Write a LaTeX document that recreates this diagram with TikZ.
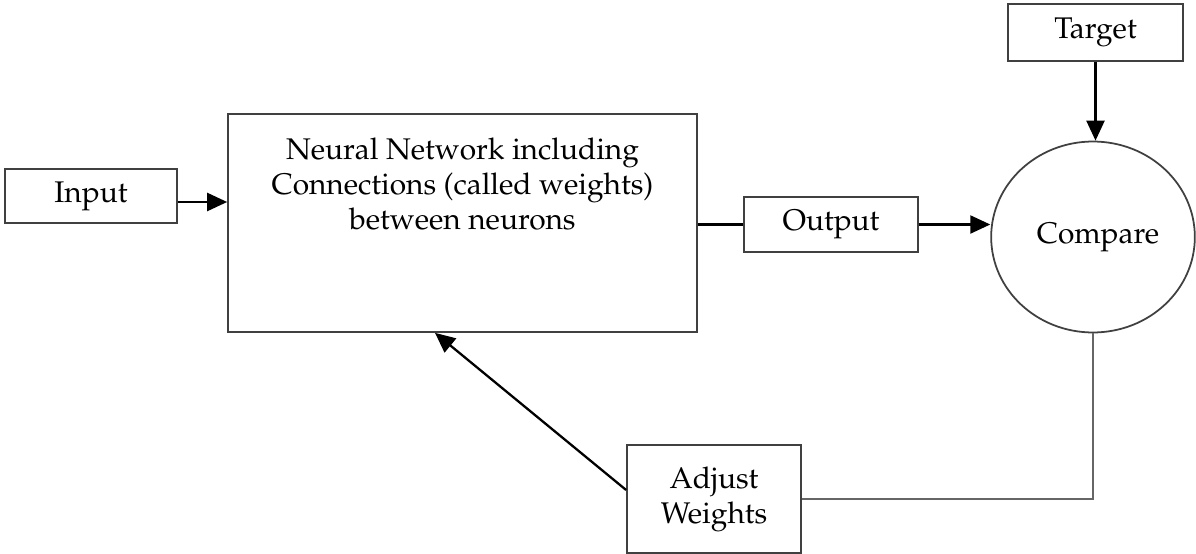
\documentclass[tikz,border=0pt]{standalone}
\usepackage[T1]{fontenc}
\usepackage{mathpazo}
\usepackage{tikz}
\usetikzlibrary{positioning, arrows.meta, shapes.geometric}

\begin{document}
\begin{tikzpicture}[
    x=0.02cm, y=-0.02cm,
    box/.style={draw=black!75, line width=1pt, rectangle, font=\fontsize{17}{20}\selectfont, align=center, inner sep=0pt},
    cmp/.style={draw=black!75, line width=1pt, ellipse, minimum width=4.06cm, minimum height=3.82cm, font=\fontsize{17}{20}\selectfont},
    link/.style={line width=1.2pt},
    flow/.style={line width=1.3pt, -{Triangle[length=0.4cm, width=0.36cm]}},
]
\useasboundingbox (0,0) rectangle (1196,554);

\node[box, minimum width=3.44cm, minimum height=1.08cm] (input) at (91, 196) {Input};
\node[box, minimum width=9.38cm, minimum height=4.36cm] (nn) at (462.5, 223) {};
\node[font=\fontsize{17}{20}\selectfont, align=center] (nntext) at (462.5, 184)
    {Neural Network including\\Connections (called weights)\\between neurons};
\node[box, minimum width=3.48cm, minimum height=1.10cm] (output) at (831, 224.5) {Output};
\node[box, minimum width=3.50cm, minimum height=1.14cm] (target) at (1095.5, 32.5) {Target};
\node[cmp] (compare) at (1093, 237) {\hspace{0.2cm}Compare};
\node[box, minimum width=3.48cm, minimum height=2.16cm] (adjust) at (714, 499) {Adjust\\Weights};

% forward path
\draw[flow] ([yshift=-0.12cm]input.east) -- ([yshift=-0.12cm]input.east -| nn.west);
\draw[link] (nn.east |- output.west) -- (output.west);
\draw[flow] (output.east) -- (output.east -| compare.west);
\draw[flow] (target.south) -- (target.south |- compare.north);

% feedback
\draw[link, black!60] (compare.south) |- (adjust.east);
\draw[flow] ([yshift=0.18cm]adjust.west) -- ([xshift=-0.55cm]nn.south);
\end{tikzpicture}
\end{document}
